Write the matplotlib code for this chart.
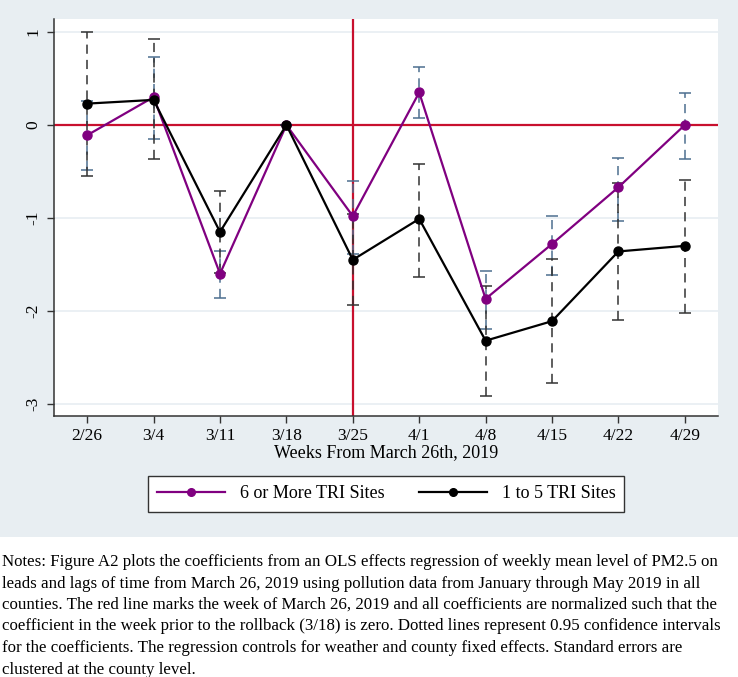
import numpy as np
import matplotlib.pyplot as plt
from matplotlib.patches import Rectangle

# weekly coefficients
weeks = ['2/26', '3/4', '3/11', '3/18', '3/25', '4/1', '4/8', '4/15', '4/22', '4/29']

many_coef = [-0.11, 0.30, -1.60, 0.0, -0.98, 0.35, -1.87, -1.28, -0.67, 0.0]
many_lo = [-0.48, -0.15, -1.86, 0.0, -1.39, 0.07, -2.19, -1.61, -1.03, -0.37]
many_hi = [0.26, 0.73, -1.35, 0.0, -0.60, 0.62, -1.57, -0.98, -0.35, 0.34]

few_coef = [0.23, 0.27, -1.15, 0.0, -1.45, -1.01, -2.32, -2.11, -1.36, -1.30]
few_lo = [-0.55, -0.37, -1.59, 0.0, -1.94, -1.63, -2.92, -2.78, -2.10, -2.02]
few_hi = [1.00, 0.92, -0.71, 0.0, -0.96, -0.42, -1.73, -1.44, -0.62, -0.59]

yticks = [1, 0, -1, -2, -3]
event_week = 4   # index of 3/25

notes = [
    "Notes: Figure A2 plots the coefficients from an OLS effects regression of weekly mean level of PM2.5 on",
    "leads and lags of time from March 26, 2019 using pollution data from January through May 2019 in all",
    "counties. The red line marks the week of March 26, 2019 and all coefficients are normalized such that the",
    "coefficient in the week prior to the rollback (3/18) is zero. Dotted lines represent 0.95 confidence intervals",
    "for the coefficients. The regression controls for weather and county fixed effects. Standard errors are",
    "clustered at the county level.",
]

bg = '#e8eef2'
purple = '#800080'
red = '#c8102e'
serif = ['Liberation Serif', 'DejaVu Serif']

fig = plt.figure(figsize=(7.38, 6.77), dpi=100)
fig.patch.set_facecolor('white')
fig.add_artist(Rectangle((0, 1 - 537 / 677), 1, 537 / 677, transform=fig.transFigure,
                         facecolor=bg, edgecolor='none', zorder=-10))

ax = fig.add_axes([54 / 738, 1 - 416 / 677, 664 / 738, 397 / 677])
ax.set_facecolor('white')
x = np.arange(len(weeks))

# grid + reference lines
for t in yticks:
    ax.axhline(t, color=bg, lw=1.2, zorder=0)
ax.axhline(0, color=red, lw=1.6, zorder=1)
ax.axvline(event_week, color=red, lw=1.6, zorder=1)

# confidence intervals
m = np.array(many_coef)
ax.errorbar(x, m, yerr=[m - np.array(many_lo), np.array(many_hi) - m], fmt='none',
            ecolor='#4d6f8f', elinewidth=1.1, capsize=4, capthick=1.1,
            zorder=2).lines[2][0].set_linestyle((0, (6, 4)))
f = np.array(few_coef)
ax.errorbar(x, f, yerr=[f - np.array(few_lo), np.array(few_hi) - f], fmt='none',
            ecolor='#333333', elinewidth=1.1, capsize=4, capthick=1.1,
            zorder=3).lines[2][0].set_linestyle((0, (6, 4)))

ax.plot(x, many_coef, color=purple, lw=1.6, marker='o', ms=6.5, zorder=4,
        label='6 or More TRI Sites')
ax.plot(x, few_coef, color='black', lw=1.6, marker='o', ms=6.5, zorder=5,
        label='1 to 5 TRI Sites')

ax.set_xlim(-0.5, 9.5)
ax.set_ylim(-3.13, 1.14)
ax.set_xticks(x)
ax.set_xticklabels(weeks, fontsize=12.5, family=serif)
ax.set_yticks(yticks)
ax.set_yticklabels([str(t) for t in yticks], fontsize=12.5, family=serif,
                   rotation=90, va='center')
ax.tick_params(length=5, width=1, color='#333333', pad=4)
for s in ['top', 'right']:
    ax.spines[s].set_visible(False)
for s in ['left', 'bottom']:
    ax.spines[s].set_color('#333333')
    ax.spines[s].set_linewidth(1.1)
ax.set_xlabel('Weeks From March 26th, 2019', fontsize=13, family=serif, labelpad=0)

leg = fig.legend(loc='center', bbox_to_anchor=(386 / 738, 1 - 494 / 677), ncol=2,
                 numpoints=1, handlelength=3.8, columnspacing=1.9, fancybox=False,
                 edgecolor='#333333', framealpha=1, borderpad=0.5,
                 prop={'family': serif, 'size': 13})
leg.get_frame().set_linewidth(1.0)
for h in leg.legend_handles:
    h.set_markersize(5.5)

for i, line in enumerate(notes):
    fig.text(2 / 738, 1 - (562 + 21.5 * i) / 677, line, fontsize=12.2, family=serif,
             va='center', ha='left')

fig.savefig('out.png', dpi=100)
